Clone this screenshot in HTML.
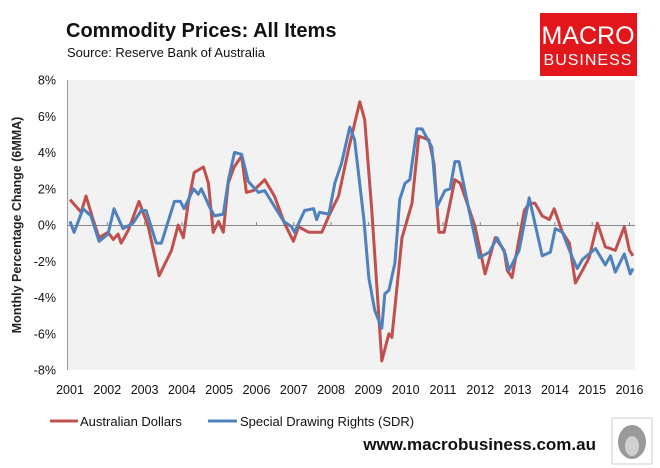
<!DOCTYPE html>
<html><head><meta charset="utf-8">
<style>
body{margin:0;background:#fff;font-family:"Liberation Sans",sans-serif;}
#wrap{position:relative;width:660px;height:468px;overflow:hidden;background:#fff;}
</style></head>
<body>
<div id="wrap">
<svg id="chart" width="660" height="468">
  <text x="66" y="37" font-size="20" font-weight="bold" fill="#111" font-family="Liberation Sans, sans-serif">Commodity Prices: All Items</text>
  <text x="67" y="57" font-size="13" fill="#111" font-family="Liberation Sans, sans-serif">Source: Reserve Bank of Australia</text>
  <g>
    <rect x="540" y="13" width="97" height="63" fill="#e3161b"/>
    <text x="588" y="44" text-anchor="middle" font-size="25" fill="#fff" font-family="Liberation Sans, sans-serif">MACRO</text>
    <text x="588" y="65" text-anchor="middle" font-size="16" fill="#fff" letter-spacing="1" font-family="Liberation Sans, sans-serif">BUSINESS</text>
  </g>
  <rect x="67" y="80" width="568" height="290" fill="#f2f2f2"/>
  <line x1="67.5" y1="80" x2="67.5" y2="370" stroke="#999" stroke-width="1"/>
  <g id="yticks"></g>
  <g id="xticks"></g>
  <line id="zero" x1="67" x2="635" stroke="#888" stroke-width="1"/>
  <g id="series"></g>
  <text transform="translate(21,225) rotate(-90)" text-anchor="middle" font-size="12.5" font-weight="bold" fill="#222" font-family="Liberation Sans, sans-serif">Monthly Percentage Change (6MMA)</text>
  <g>
    <line x1="50" y1="421" x2="78" y2="421" stroke="#c0504d" stroke-width="3"/>
    <text x="80" y="426" font-size="13" fill="#111" font-family="Liberation Sans, sans-serif">Australian Dollars</text>
  </g>
  <g>
    <line x1="208" y1="421" x2="237" y2="421" stroke="#4f81bd" stroke-width="3"/>
    <text x="240" y="426" font-size="13" fill="#111" font-family="Liberation Sans, sans-serif">Special Drawing Rights (SDR)</text>
  </g>
  <text x="596" y="450" text-anchor="end" font-size="17" font-weight="bold" fill="#111" font-family="Liberation Sans, sans-serif">www.macrobusiness.com.au</text>
  <g>
    <rect x="612" y="418" width="40" height="46" fill="#fff" stroke="#ccc"/>
    <ellipse cx="632" cy="442" rx="14" ry="17" fill="#9a9a9a"/>
    <ellipse cx="632" cy="446" rx="7" ry="10" fill="#d0d0d0"/>
  </g>
</svg>
</div>
<script>
const yTickValues = [8,6,4,2,0,-2,-4,-6,-8];
const xTickYears = [2001,2002,2003,2004,2005,2006,2007,2008,2009,2010,2011,2012,2013,2014,2015,2016];
const audDates = [2001.0,2001.30,2001.43,2001.62,2001.78,2002.02,2002.16,2002.29,2002.37,2002.56,2002.85,2003.10,2003.39,2003.72,2003.90,2004.04,2004.17,2004.33,2004.58,2004.71,2004.84,2004.98,2005.11,2005.24,2005.40,2005.60,2005.73,2005.92,2006.22,2006.48,2006.75,2006.99,2007.13,2007.40,2007.75,2007.94,2008.20,2008.47,2008.77,2008.90,2009.09,2009.36,2009.55,2009.63,2009.90,2010.17,2010.35,2010.62,2010.76,2010.89,2011.03,2011.32,2011.46,2011.65,2011.86,2012.13,2012.40,2012.64,2012.72,2012.85,2013.18,2013.31,2013.47,2013.66,2013.85,2013.98,2014.20,2014.39,2014.55,2014.74,2014.92,2015.14,2015.35,2015.49,2015.62,2015.86,2016.0,2016.13];
const audValues = [1.4,0.7,1.6,0.3,-0.7,-0.4,-0.8,-0.5,-1.0,-0.3,1.3,-0.1,-2.8,-1.4,0,-0.7,1.2,2.9,3.2,2.3,-0.4,0.2,-0.4,2.3,3.2,3.8,1.8,1.9,2.5,1.6,0.1,-0.9,-0.1,-0.4,-0.4,0.5,1.6,4.2,6.8,5.8,0.8,-7.5,-6.0,-6.2,-0.7,1.2,4.9,4.7,3.4,-0.4,-0.4,2.5,2.3,1.2,-0.1,-2.7,-0.7,-1.4,-2.5,-2.9,0.8,1.2,1.2,0.5,0.3,0.9,-0.4,-1.0,-3.2,-2.5,-1.8,0.1,-1.2,-1.3,-1.4,-0.1,-1.4,-1.7];
const sdrDates = [2001.0,2001.11,2001.35,2001.56,2001.78,2002.02,2002.18,2002.42,2002.69,2002.91,2003.04,2003.31,2003.45,2003.80,2003.96,2004.06,2004.31,2004.44,2004.52,2004.74,2004.87,2005.11,2005.25,2005.41,2005.60,2005.78,2006.05,2006.22,2006.40,2006.73,2006.94,2007.02,2007.29,2007.53,2007.61,2007.69,2007.94,2008.10,2008.28,2008.50,2008.63,2008.88,2009.01,2009.17,2009.36,2009.44,2009.55,2009.71,2009.84,2009.98,2010.11,2010.30,2010.44,2010.70,2010.84,2011.05,2011.19,2011.32,2011.43,2011.70,2011.97,2012.24,2012.45,2012.67,2012.77,2013.04,2013.31,2013.66,2013.88,2014.01,2014.20,2014.47,2014.60,2014.74,2015.09,2015.35,2015.49,2015.62,2015.86,2016.02,2016.13];
const sdrValues = [0.2,-0.4,0.9,0.5,-0.9,-0.5,0.9,-0.2,0.1,0.8,0.8,-1.0,-1.0,1.3,1.3,0.9,2.0,1.7,2.0,1.0,0.5,0.6,2.5,4.0,3.9,2.4,1.8,1.9,1.3,0.2,-0.1,-0.4,0.8,0.9,0.3,0.7,0.6,2.3,3.4,5.4,4.7,0.3,-2.9,-4.7,-5.7,-3.8,-3.6,-2.1,1.4,2.3,2.5,5.3,5.3,4.3,1.0,1.9,2.0,3.5,3.5,0.8,-1.8,-1.5,-0.7,-1.6,-2.5,-1.4,1.5,-1.7,-1.5,-0.2,-0.4,-1.8,-2.4,-1.9,-1.3,-2.2,-1.7,-2.6,-1.6,-2.7,-2.4];

const NS = 'http://www.w3.org/2000/svg';
function xScale(yr){ return 70 + (yr - 2001) * 37.3; }
function yScale(v){ return 225 - v * 18.125; }

const yt = document.getElementById('yticks');
yTickValues.forEach(v => {
  const t = document.createElementNS(NS,'text');
  t.setAttribute('x', 56);
  t.setAttribute('y', yScale(v) + 4.5);
  t.setAttribute('text-anchor','end');
  t.setAttribute('font-size','12.5');
  t.setAttribute('fill','#111');
  t.setAttribute('font-family','Liberation Sans, sans-serif');
  t.textContent = v + '%';
  
  
  yt.appendChild(t);
});
const zero = document.getElementById('zero');
zero.setAttribute('y1', yScale(0) + 0.5);
zero.setAttribute('y2', yScale(0) + 0.5);
const xt = document.getElementById('xticks');
xTickYears.forEach(yr => {
  const t = document.createElementNS(NS,'text');
  t.setAttribute('x', xScale(yr));
  t.setAttribute('y', 394);
  t.setAttribute('text-anchor','middle');
  t.setAttribute('font-size','12.5');
  t.setAttribute('fill','#111');
  t.setAttribute('font-family','Liberation Sans, sans-serif');
  t.textContent = yr;
  
  
  xt.appendChild(t);
  const m = document.createElementNS(NS,'line');
  m.setAttribute('x1', xScale(yr)); m.setAttribute('x2', xScale(yr));
  m.setAttribute('y1', yScale(0) - 3); m.setAttribute('y2', yScale(0));
  m.setAttribute('stroke','#888');
  
  
  xt.appendChild(m);
});
function drawLine(dates, vals, color, name){
  const p = document.createElementNS(NS,'polyline');
  p.setAttribute('points', dates.map((d,i)=> Math.min(xScale(d),633).toFixed(1)+','+yScale(vals[i]).toFixed(1)).join(' '));
  p.setAttribute('fill','none');
  p.setAttribute('stroke', color);
  p.setAttribute('stroke-width','3');
  p.setAttribute('stroke-linejoin','round');
  
  
  document.getElementById('series').appendChild(p);
}
drawLine(audDates, audValues, '#c0504d', 'aud-series-line');
drawLine(sdrDates, sdrValues, '#4f81bd', 'sdr-series-line');
</script>
</body></html>
